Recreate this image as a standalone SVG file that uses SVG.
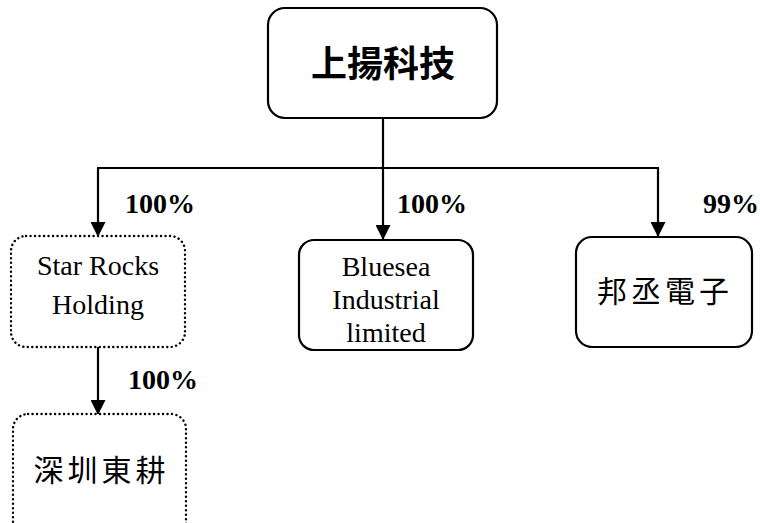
<svg xmlns="http://www.w3.org/2000/svg" width="760" height="523" viewBox="0 0 760 523">
<defs>
<marker id="ah" markerWidth="15" markerHeight="15" refX="14" refY="7.5" orient="auto" markerUnits="userSpaceOnUse" viewBox="0 0 15 15">
<path d="M0,0 L15,7.5 L0,15 z" fill="#000"/>
</marker>
</defs>
<style>
.box{fill:#fff;stroke:#000;stroke-width:2.2}
.dot{fill:#fff;stroke:#000;stroke-width:2.4;stroke-dasharray:0.1 4.4;stroke-linecap:round}
.en{font-family:"Liberation Serif","Times New Roman",serif;font-size:28px;fill:#000;text-anchor:middle}
.cjk{font-family:"Noto Sans CJK TC","Noto Sans CJK SC",sans-serif;fill:#000;text-anchor:middle}
.pct{font-family:"Liberation Serif","Times New Roman",serif;font-size:28px;font-weight:bold;fill:#000}
.ln{stroke:#000;stroke-width:2.2;fill:none}
</style>
<g id="connectors">
<line class="ln" x1="383" y1="118" x2="383" y2="168"/>
<line class="ln" x1="97" y1="168" x2="659" y2="168"/>
<line class="ln" x1="98" y1="168" x2="98" y2="236" marker-end="url(#ah)"/>
<line class="ln" x1="383" y1="168" x2="383" y2="239" marker-end="url(#ah)"/>
<line class="ln" x1="658" y1="168" x2="658" y2="236" marker-end="url(#ah)"/>
<line class="ln" x1="98" y1="347" x2="98" y2="414" marker-end="url(#ah)"/>
<text class="pct" x="125" y="213">100%</text>
<text class="pct" x="397" y="213">100%</text>
<text class="pct" x="703" y="213">99%</text>
<text class="pct" x="128" y="389">100%</text>
</g>
<g id="n-top">
<rect class="box" x="268" y="8" width="229" height="110" rx="17"/>
<text class="cjk" x="383" y="77" font-size="36" font-weight="bold">上揚科技</text>
</g>
<g id="n-starrocks">
<rect class="dot" x="11" y="236" width="174" height="111" rx="15"/>
<text class="en" x="98" y="275">Star Rocks</text>
<text class="en" x="98" y="314">Holding</text>
</g>
<g id="n-bluesea">
<rect class="box" x="299" y="240" width="174" height="110" rx="15"/>
<text class="en" x="386" y="276">Bluesea</text>
<text class="en" x="386" y="309">Industrial</text>
<text class="en" x="386" y="342">limited</text>
</g>
<g id="n-bangcheng">
<rect class="box" x="576" y="237" width="176" height="110" rx="16"/>
<text class="cjk" x="665" y="302" font-size="30" letter-spacing="4">邦丞電子</text>
</g>
<g id="n-shenzhen">
<rect class="dot" x="13" y="414" width="173" height="130" rx="15"/>
<text class="cjk" x="101.5" y="481" font-size="30" letter-spacing="4">深圳東耕</text>
</g>
</svg>
